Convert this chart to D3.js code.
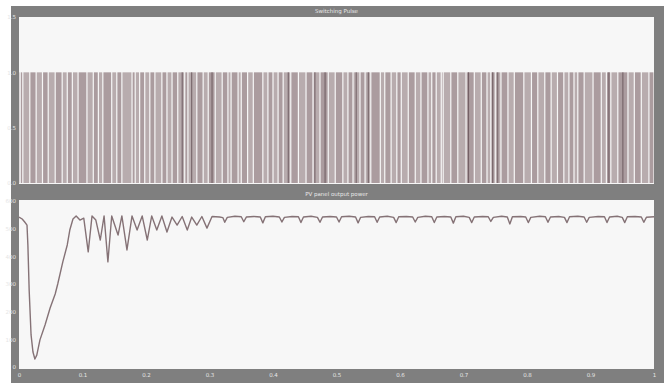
<!DOCTYPE html>
<html>
<head>
<meta charset="utf-8">
<script src="https://cdn.jsdelivr.net/npm/d3@7"></script>
<style>
  body { margin: 0; background: #ffffff; }
  svg { display: block; }
  text { font-family: "DejaVu Sans", sans-serif; }
</style>
</head>
<body>
<div id="chart"></div>
<script>
// scope titles and ticks
var topTitle = "Switching Pulse";
var bottomTitle = "PV panel output power";
var xTicks = [0, 0.1, 0.2, 0.3, 0.4, 0.5, 0.6, 0.7, 0.8, 0.9, 1];
var pulseTicks = [0, 0.5, 1, 1.5];
var powerTicks = [0, 100, 200, 300, 400, 500, 600];

// switching pulse: times of the short off-gaps between on-pulses
var pulseGaps = [0.002, 0.006, 0.017, 0.027, 0.037, 0.046, 0.057, 0.068, 0.076, 0.084,
  0.093, 0.107, 0.117, 0.125, 0.132, 0.146, 0.154, 0.162, 0.178, 0.183,
  0.190, 0.198, 0.206, 0.214, 0.225, 0.233, 0.241, 0.250, 0.261, 0.266,
  0.280, 0.290, 0.298, 0.309, 0.320, 0.329, 0.334, 0.345, 0.350, 0.360,
  0.369, 0.384, 0.392, 0.400, 0.408, 0.416, 0.428, 0.440, 0.452, 0.463,
  0.474, 0.487, 0.498, 0.510, 0.518, 0.526, 0.537, 0.545, 0.554, 0.569,
  0.576, 0.586, 0.595, 0.602, 0.613, 0.624, 0.633, 0.644, 0.650, 0.657,
  0.665, 0.668, 0.680, 0.691, 0.704, 0.717, 0.728, 0.737, 0.743, 0.750,
  0.759, 0.770, 0.780, 0.795, 0.807, 0.817, 0.828, 0.838, 0.848, 0.858,
  0.866, 0.874, 0.880, 0.890, 0.904, 0.917, 0.925, 0.932, 0.943, 0.959,
  0.969, 0.980, 0.992];
// narrow pulses that show up darker
var pulseDark = [0.257, 0.272, 0.304, 0.424, 0.466, 0.482, 0.531, 0.550, 0.708,
  0.746, 0.754, 0.929, 0.951];

// PV panel output power (W) against time (s)
var powerT = [0, 0.005, 0.009, 0.0126, 0.014, 0.016, 0.019, 0.022, 0.025, 0.028,
  0.033, 0.041, 0.049, 0.057, 0.061, 0.069, 0.076, 0.080, 0.085, 0.090,
  0.096, 0.102, 0.109, 0.115, 0.121, 0.128, 0.134, 0.140, 0.146, 0.156,
  0.162, 0.170, 0.178, 0.186, 0.194, 0.202, 0.209, 0.217, 0.225, 0.233,
  0.241, 0.249, 0.257, 0.265, 0.272, 0.280, 0.288, 0.296, 0.304,
  0.316, 0.321, 0.324, 0.328, 0.340, 0.350, 0.354, 0.358, 0.370, 0.380,
  0.384, 0.388, 0.400, 0.410, 0.414, 0.418, 0.430, 0.440, 0.444, 0.448,
  0.460, 0.470, 0.474, 0.478, 0.490, 0.500, 0.504, 0.508, 0.520, 0.530,
  0.534, 0.538, 0.550, 0.560, 0.564, 0.568, 0.580, 0.590, 0.594, 0.598,
  0.610, 0.620, 0.624, 0.628, 0.640, 0.650, 0.654, 0.658, 0.670, 0.680,
  0.684, 0.688, 0.700, 0.709, 0.713, 0.717, 0.730, 0.739, 0.743, 0.747,
  0.760, 0.769, 0.773, 0.777, 0.790, 0.798, 0.802, 0.806, 0.820, 0.829,
  0.833, 0.837, 0.850, 0.859, 0.863, 0.867, 0.880, 0.890, 0.894, 0.898,
  0.912, 0.922, 0.926, 0.930, 0.942, 0.950, 0.954, 0.958, 0.970, 0.980,
  0.984, 0.988, 1.0];
var powerW = [542, 535, 524, 513, 441, 278, 116, 54, 29, 43,
  98, 152, 213, 264, 300, 380, 441, 495, 535, 546,
  531, 538, 416, 546, 531, 459, 546, 380, 546, 477,
  546, 423, 546, 495, 546, 459, 546, 495, 546, 488,
  542, 513, 544, 495, 542, 513, 544, 502, 544,
  542, 540, 523, 541, 545, 543, 525, 542, 544, 542,
  521, 543, 545, 542, 524, 541, 544, 543, 522, 542,
  545, 541, 523, 542, 544, 542, 524, 543, 545, 542,
  521, 541, 544, 543, 523, 542, 545, 541, 522, 543,
  544, 542, 524, 541, 545, 543, 522, 542, 544, 542,
  520, 543, 545, 541, 522, 542, 544, 543, 526, 541,
  545, 542, 517, 543, 544, 542, 522, 541, 545, 543,
  523, 542, 544, 541, 522, 543, 545, 542, 523, 541,
  544, 543, 522, 542, 545, 541, 522, 543, 544, 542,
  523, 541, 543];

var W = 664, H = 383;
var frame = { left: 11, top: 6 };
var plotL = 19, plotR = 654;
var topPanel = { top: 17, bottom: 184 };
var botPanel = { top: 200, bottom: 369 };

var svg = d3.select("#chart").append("svg")
  .attr("width", W).attr("height", H);

svg.append("rect")
  .attr("x", frame.left).attr("y", frame.top)
  .attr("width", W - frame.left).attr("height", H - frame.top)
  .attr("fill", "#7f7f7f");

var x = d3.scaleLinear().domain([0, 1]).range([plotL, plotR]);
var yPulse = d3.scaleLinear().domain([0, 1.5]).range([topPanel.bottom - 1, topPanel.top]);
var yPower = d3.scaleLinear().domain([0, 600]).range([botPanel.bottom - 2, botPanel.top + 1]);

function panel(p, title) {
  svg.append("rect")
    .attr("x", plotL).attr("y", p.top)
    .attr("width", plotR - plotL).attr("height", p.bottom - p.top)
    .attr("fill", "#f7f7f7");
  svg.append("text")
    .attr("x", (plotL + plotR) / 2).attr("y", p.top - 4)
    .attr("text-anchor", "middle")
    .attr("font-size", 5.5)
    .attr("fill", "#e8e8e8")
    .text(title);
}
panel(topPanel, topTitle);
panel(botPanel, bottomTitle);

// switching pulse bars
var pulseG = svg.append("g");
var edges = [0].concat(pulseGaps).concat([1]);
var pulses = d3.pairs(edges);
pulseG.selectAll("rect.pulse")
  .data(pulses)
  .enter().append("rect")
  .attr("class", "pulse")
  .attr("x", function(d) { return x(d[0]) + 0.6; })
  .attr("width", function(d) { return Math.max(0.5, x(d[1]) - x(d[0]) - 1.2); })
  .attr("y", yPulse(1))
  .attr("height", yPulse(0) - yPulse(1))
  .attr("fill", function(d, i) { return i % 2 ? "#ab9c9f" : "#b8acae"; });

pulseG.selectAll("line.dark")
  .data(pulseDark)
  .enter().append("line")
  .attr("class", "dark")
  .attr("x1", function(d) { return x(d); })
  .attr("x2", function(d) { return x(d); })
  .attr("y1", yPulse(1)).attr("y2", yPulse(0))
  .attr("stroke", "#6f5c61").attr("stroke-width", 1);

// power line
var line = d3.line()
  .x(function(d, i) { return x(powerT[i]); })
  .y(function(d) { return yPower(d); });
svg.append("path")
  .datum(powerW)
  .attr("d", line)
  .attr("fill", "none")
  .attr("stroke", "#857276")
  .attr("stroke-width", 1.4)
  .attr("stroke-linejoin", "round");

// axes (scope style: light labels on the grey frame)
function styleAxis(g) {
  g.select(".domain").remove();
  g.selectAll("text").attr("fill", "#e6e6e6").attr("font-size", 5.5);
  g.selectAll("line").attr("stroke", "#e6e6e6");
}

svg.append("g")
  .attr("transform", "translate(0," + botPanel.bottom + ")")
  .call(d3.axisBottom(x).tickValues(xTicks).tickSize(0).tickPadding(4)
    .tickFormat(function(d) { return d === 0 || d === 1 ? d : d3.format(".1f")(d); }))
  .call(styleAxis);

svg.append("g")
  .attr("transform", "translate(" + plotL + ",0)")
  .call(d3.axisLeft(yPulse).tickValues(pulseTicks).tickSize(0).tickPadding(3))
  .call(styleAxis);

svg.append("g")
  .attr("transform", "translate(" + plotL + ",0)")
  .call(d3.axisLeft(yPower).tickValues(powerTicks).tickSize(0).tickPadding(3))
  .call(styleAxis);
</script>
</body>
</html>
